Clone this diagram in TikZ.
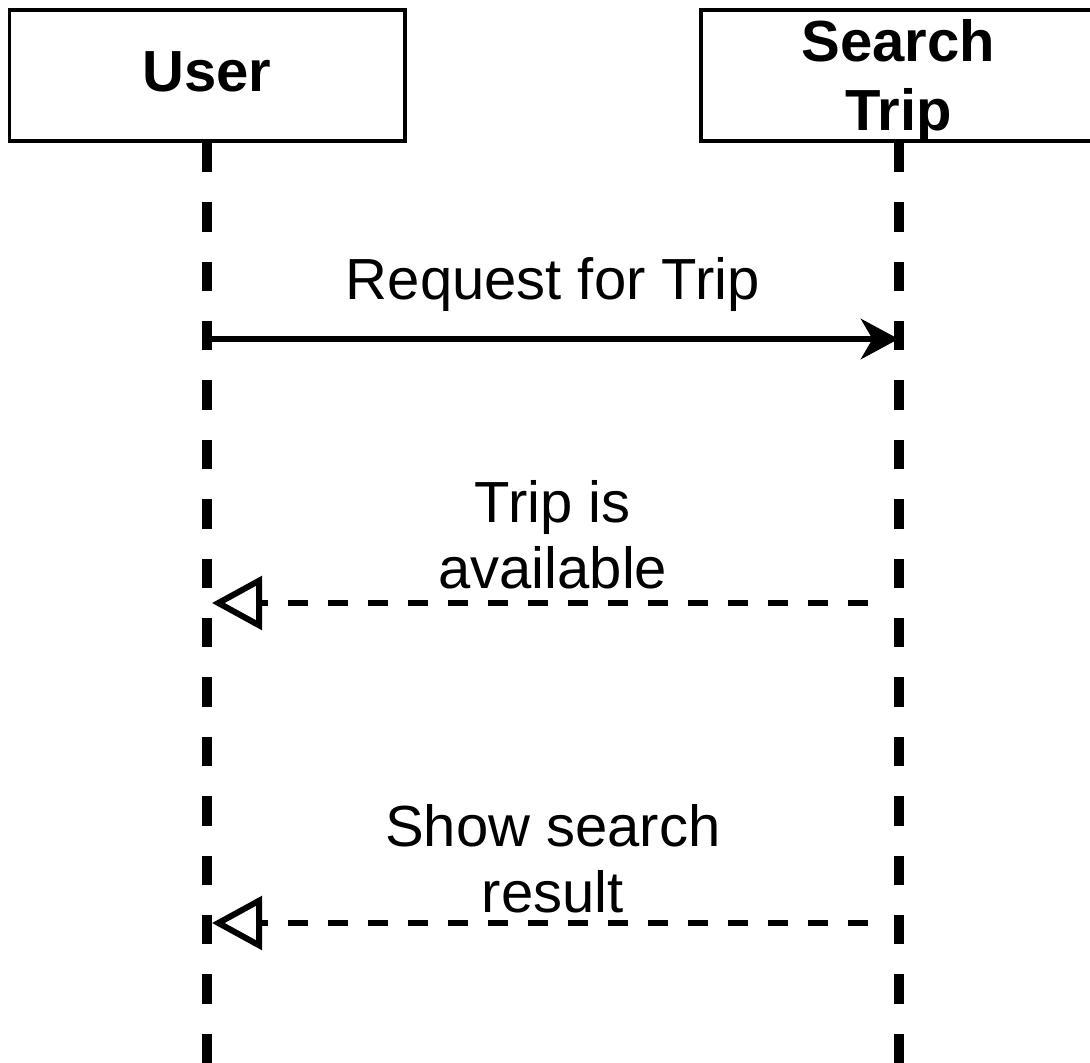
\documentclass[tikz,border=0pt]{standalone}
\usepackage{fontspec}
\setmainfont{Liberation Sans}
\usetikzlibrary{arrows.meta}
\begin{document}
\begin{tikzpicture}[x=1pt,y=-1pt,
  headbox/.style={draw, line width=3.5pt, minimum width=395.5pt, minimum height=131pt,
    inner sep=0pt, align=center, font=\fontsize{58}{69.5}\selectfont\bfseries},
  lifeline/.style={line width=10pt, dash pattern=on 29.5pt off 29.9pt},
  callmsg/.style={line width=5.5pt,
    -{Stealth[length=38pt,width=41pt,inset=12pt,line width=1pt]}},
  replymsg/.style={line width=6pt, dash pattern=on 20pt off 20pt, dash phase=20pt,
    shorten <=11pt, shorten >=5pt,
    -{Triangle[open,length=50pt,width=53pt,line width=6pt]}},
  msglabel/.style={midway, anchor=north, inner sep=0pt, align=center,
    font=\fontsize{58}{66}\selectfont}
]
\clip (0,0) rectangle (1090,1063);

% participants
\node[headbox, text depth=8pt] (user) at (207,75.5) {User};
\node[headbox, text depth=1pt] (trip) at (898.5,75.5) {Search\\Trip};

% lifelines
\coordinate (userend) at (user.south |- 0,1075);
\coordinate (tripend) at (trip.south |- 0,1075);
\draw[lifeline] (user.south) -- (userend);
\draw[lifeline] (trip.south) -- (tripend);

% messages
\draw[callmsg] (user.south |- 0,339) -- (trip.south |- 0,339)
  node[msglabel, yshift=84pt] {Request for Trip};
\draw[replymsg] (trip.south |- 0,603) -- (user.south |- 0,603)
  node[msglabel, yshift=126pt] {Trip is\\available};
\draw[replymsg] (trip.south |- 0,923) -- (user.south |- 0,923)
  node[msglabel, yshift=122pt] {Show search\\result};
\end{tikzpicture}
\end{document}
